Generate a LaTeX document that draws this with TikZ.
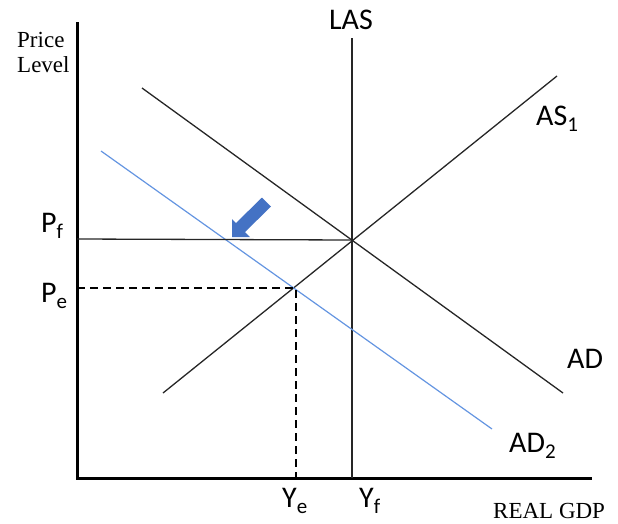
\documentclass[tikz,border=0pt]{standalone}
\usepackage{fontspec}
\setmainfont{Liberation Serif}
\newfontfamily\calib{Carlito}
\definecolor{adtwo}{RGB}{100,149,225}
\definecolor{arrowblue}{RGB}{68,114,196}
\newcommand\subtxt[1]{\raisebox{-6pt}{\fontsize{21}{21}\selectfont #1}}
\begin{document}
\begin{tikzpicture}[x=1pt,y=-1pt,
  axis/.style={line width=3pt},
  curve/.style={line width=1.3pt,black!85},
  shiftcurve/.style={line width=1.2pt,adtwo},
  guide/.style={line width=1.5pt,dash pattern=on 8pt off 5pt},
  serlab/.style={inner sep=0pt,anchor=base west,font=\fontsize{23}{25}\selectfont},
  sanlab/.style={inner sep=0pt,anchor=base west,font=\calib\fontsize{30}{32}\selectfont}]
\useasboundingbox (0,0) rectangle (618,523);
% coordinates
\coordinate (origin) at (77,478);
\coordinate (ytop) at (77,22);
\coordinate (xend) at (592,478);
\coordinate (lastop) at (352,38);
\coordinate (lasbot) at (352,478);
\coordinate (eqf) at (352,240);
\coordinate (pfaxis) at (77,239);
\coordinate (eqe) at (296,288);
\coordinate (peaxis) at (77,288);
\coordinate (yeaxis) at (296,478);
\coordinate (adA) at (142,88);
\coordinate (adB) at (563,393);
\coordinate (asA) at (163,393);
\coordinate (asB) at (557,76);
\coordinate (adtA) at (101,151);
\coordinate (adtB) at (492,429);
% axes
\draw[axis] (ytop) -- (origin) -- (xend);
% LAS
\draw[curve] (lastop) -- (lasbot);
% curves
\draw[curve] (adA) -- (adB);
\draw[curve] (asA) -- (asB);
\draw[shiftcurve] (adtA) -- (adtB);
% guides
\draw[curve] (pfaxis) -- (eqf);
\draw[guide] (peaxis) -- (eqe) -- (yeaxis);
% block arrow
\fill[arrowblue] (232,237) -- (232,219) -- (236.0,223.0) -- (262.0,197.5)
  -- (271.0,206.5) -- (245.0,232.0) -- (250,237) -- cycle;
% labels
\node[serlab] (price) at (17,47) {Price};
\node[serlab] (level) at (17,72) {Level};
\node[serlab] (gdp) at (493,518) {REAL GDP};
\node[sanlab,anchor=base] (las) at (351,29) {LAS};
\node[sanlab] (as1) at (536,125) {AS\subtxt{1}};
\node[sanlab] (ad) at (567,368) {AD};
\node[sanlab] (ad2) at (509,452) {AD\subtxt{2}};
\node[sanlab] (pf) at (41,232) {P\subtxt{f}};
\node[sanlab] (pe) at (41,302) {P\subtxt{e}};
\node[sanlab] (ye) at (282,507) {Y\subtxt{e}};
\node[sanlab] (yf) at (359,507) {Y\subtxt{f}};
\end{tikzpicture}
\end{document}
